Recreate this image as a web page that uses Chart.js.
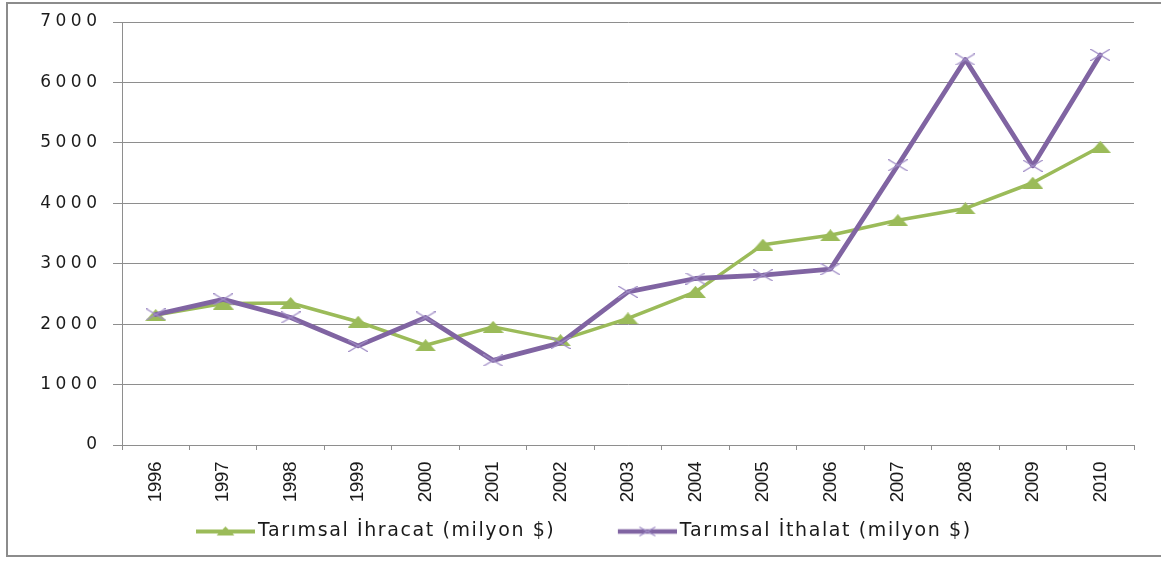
<!DOCTYPE html>
<html>
<head>
<meta charset="utf-8">
<script src="https://cdn.jsdelivr.net/npm/chart.js@4.4.1/dist/chart.umd.min.js"></script>
<style>
html, body { margin: 0; padding: 0; background: #ffffff; overflow: hidden; width: 1161px; height: 561px; }
#frame { position: absolute; left: 6px; top: 2px; width: 1200px; height: 551px; border: 2px solid #8c8c8c; }
#wrap { position: absolute; left: 0; top: 0; width: 1161px; height: 561px; }
</style>
</head>
<body>
<div id="frame"></div>
<div id="wrap"><canvas id="c" width="1161" height="561"></canvas></div>
<script>
// ---- data ----
const years = ['1996','1997','1998','1999','2000','2001','2002','2003','2004','2005','2006','2007','2008','2009','2010'];
const exportValues = [2150, 2340, 2350, 2040, 1650, 1955, 1735, 2095, 2535, 3315, 3470, 3720, 3915, 4340, 4935];
const importValues = [2160, 2410, 2110, 1640, 2110, 1400, 1690, 2535, 2755, 2810, 2910, 4630, 6380, 4620, 6455];
const yTicks = [0, 1000, 2000, 3000, 4000, 5000, 6000, 7000];
const seriesNames = ['Tarımsal İhracat (milyon $)', 'Tarımsal İthalat (milyon $)'];

// ---- styles ----
const GREEN = '#9bbb59';
const PURPLE = '#8064a2';
const XMARK = '#a08dc6';
const GRID = '#8e8e8e';
const TEXT = '#1a1a1a';
const LEG_BLANK = 59;

function makeTri(w, h, color) {
  const c = document.createElement('canvas'); c.width = w; c.height = h;
  const g = c.getContext('2d'); g.fillStyle = color;
  g.beginPath(); g.moveTo(w / 2, 0); g.lineTo(w, h); g.lineTo(0, h); g.closePath(); g.fill();
  return c;
}
function makeX(w, h, color) {
  const c = document.createElement('canvas'); c.width = w; c.height = h;
  const g = c.getContext('2d'); g.strokeStyle = color; g.lineWidth = 1.2;
  g.beginPath(); g.moveTo(0, 0); g.lineTo(w, h); g.moveTo(w, 0); g.lineTo(0, h); g.stroke();
  return c;
}
function makeLegendSample(kind) {
  const w = 59 + LEG_BLANK, h = 16;
  const c = document.createElement('canvas'); c.width = w; c.height = h;
  const g = c.getContext('2d');
  g.strokeStyle = kind === 0 ? GREEN : PURPLE;
  g.lineWidth = kind === 0 ? 4 : 4.5;
  g.beginPath(); g.moveTo(LEG_BLANK, h / 2); g.lineTo(w, h / 2); g.stroke();
  const cx = LEG_BLANK + 29.5;
  if (kind === 0) {
    g.fillStyle = GREEN;
    g.beginPath(); g.moveTo(cx, h / 2 - 5); g.lineTo(cx + 9, h / 2 + 4); g.lineTo(cx - 9, h / 2 + 4); g.closePath(); g.fill();
  } else {
    g.strokeStyle = XMARK; g.lineWidth = 1.2;
    g.beginPath(); g.moveTo(cx - 8, h / 2 - 4.5); g.lineTo(cx + 8, h / 2 + 4.5);
    g.moveTo(cx + 8, h / 2 - 4.5); g.lineTo(cx - 8, h / 2 + 4.5); g.stroke();
  }
  return c;
}

const triImg = makeTri(21, 12, GREEN);
const xImg = makeX(20, 12, XMARK);
const legendImgs = [makeLegendSample(0), makeLegendSample(1)];

function patch(obj, m, sp) {
  if (!obj || obj['_p_' + m]) return;
  const o = obj[m];
  obj[m] = function (...a) {
    const c = this.ctx; const prev = c.letterSpacing;
    c.letterSpacing = sp;
    try { return o.apply(this, a); } finally { c.letterSpacing = prev; }
  };
  obj['_p_' + m] = true;
}

const tweak = {
  id: 'tweak',
  afterLayout(chart) {
    const lg = chart.legend;
    if (lg) { lg.left = 133.5; lg.right = chart.width; }
  },
  beforeDraw(chart) {
    patch(chart.legend, 'draw', '1.6px');
    patch(chart.scales.y, 'drawLabels', '4.5px');
    patch(chart.scales.x, 'drawLabels', '-0.5px');
  }
};

const ctx = document.getElementById('c').getContext('2d');
const chart = new Chart(ctx, {
  type: 'line',
  data: {
    labels: years,
    datasets: [
      {
        label: seriesNames[0], data: exportValues,
        borderColor: GREEN, backgroundColor: GREEN, borderWidth: 3.5,
        pointStyle: triImg, pointRadius: 10, pointHoverRadius: 10,
        tension: 0, fill: false, borderJoinStyle: 'round', borderCapStyle: 'round', order: 2
      },
      {
        label: seriesNames[1], data: importValues,
        borderColor: PURPLE, backgroundColor: PURPLE, borderWidth: 4.8,
        pointStyle: xImg, pointRadius: 10, pointHoverRadius: 10,
        tension: 0, fill: false, borderJoinStyle: 'round', borderCapStyle: 'round', order: 1
      }
    ]
  },
  options: {
    responsive: false,
    animation: false,
    devicePixelRatio: 1,
    events: [],
    layout: { padding: { top: 22, right: 27, bottom: 10, left: 0 } },
    plugins: {
      tooltip: { enabled: false },
      legend: {
        position: 'bottom',
        align: 'start',
        labels: {
          usePointStyle: true,
          pointStyleWidth: 46 + LEG_BLANK,
          padding: 10,
          color: TEXT,
          font: { family: "'DejaVu Sans'", size: 19 },
          sort: (a, b) => a.datasetIndex - b.datasetIndex,
          generateLabels: (chart) => {
            const items = Chart.defaults.plugins.legend.labels.generateLabels(chart);
            items.forEach(it => { it.pointStyle = legendImgs[it.datasetIndex]; });
            return items;
          }
        }
      }
    },
    scales: {
      x: {
        offset: true,
        grid: { offset: true, drawOnChartArea: false, drawTicks: true, tickLength: 5, color: GRID, lineWidth: 1 },
        border: { color: GRID, width: 1 },
        ticks: {
          autoSkip: false, maxRotation: 90, minRotation: 90, padding: 12,
          color: TEXT,
          font: { family: "'Liberation Sans Narrow', 'Liberation Sans'", size: 19 }
        },
        afterFit: (s) => { s.height = 67; }
      },
      y: {
        min: 0, max: 7000,
        afterBuildTicks: (s) => { s.ticks = yTicks.map(v => ({ value: v })); },
        grid: { color: GRID, lineWidth: 1, drawTicks: true, tickLength: 9 },
        border: { color: GRID, width: 1 },
        ticks: { color: TEXT, padding: 11.5, font: { family: "'DejaVu Sans'", size: 17 }, callback: (v) => String(v) },
        afterFit: (s) => { s.width = 122; }
      }
    }
  },
  plugins: [tweak]
});
chart.update();
</script>
</body>
</html>
